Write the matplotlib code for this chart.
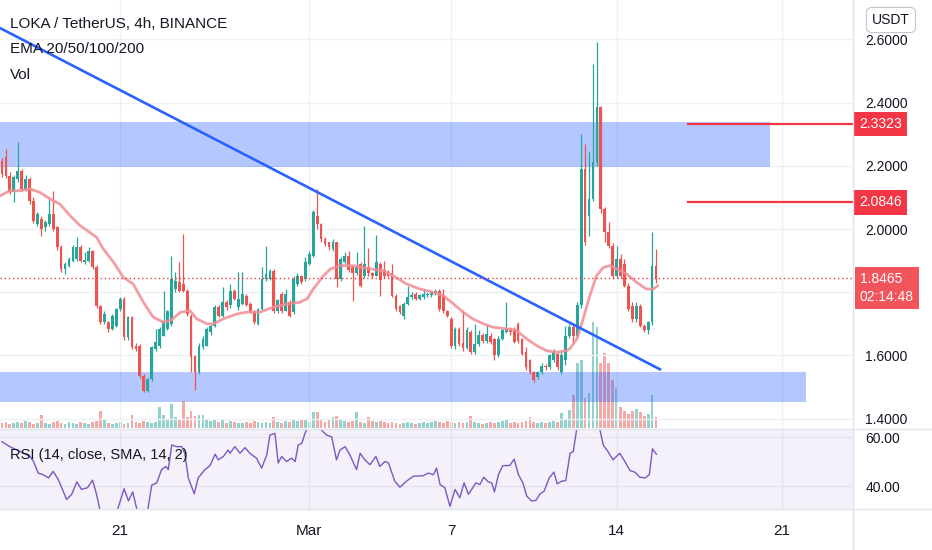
import numpy as np
import pandas as pd
import matplotlib
matplotlib.use("Agg")
import matplotlib.pyplot as plt
import matplotlib.transforms as mtransforms
from matplotlib.lines import Line2D

plt.rcParams['font.family'] = ['Liberation Sans', 'DejaVu Sans']

# ---- data (LOKA/USDT 4h) ----
start = pd.Timestamp("2022-02-16 00:00")

opens = [2.216, 2.227, 2.169, 2.116, 2.158, 2.185, 2.127, 2.158, 2.090, 2.016,
         2.032, 2.005, 2.016, 2.047, 2.005, 1.942, 1.873, 1.884, 1.900, 1.905,
         1.942, 1.897, 1.900, 1.931, 1.879, 1.757, 1.705, 1.705, 1.684, 1.694,
         1.747, 1.778, 1.657, 1.720, 1.631, 1.631, 1.536, 1.488, 1.525, 1.620,
         1.631, 1.662, 1.684, 1.699, 1.810, 1.831, 1.826, 1.805, 1.726, 1.599,
         1.547, 1.626, 1.631, 1.673, 1.694, 1.752, 1.726, 1.768, 1.758, 1.805,
         1.752, 1.763, 1.789, 1.763, 1.742, 1.699, 1.747, 1.842, 1.842, 1.868,
         1.742, 1.795, 1.742, 1.768, 1.736, 1.826, 1.852, 1.842, 1.889, 1.916,
         2.042, 2.016, 1.968, 1.958, 1.937, 1.958, 1.842, 1.895, 1.916, 1.880,
         1.860, 1.890, 1.850, 1.880, 1.860, 1.852, 1.890, 1.870, 1.863, 1.860,
         1.789, 1.757, 1.726, 1.763, 1.784, 1.795, 1.780, 1.785, 1.790, 1.790,
         1.795, 1.805, 1.790, 1.742, 1.715, 1.630, 1.684, 1.640, 1.625, 1.675,
         1.610, 1.636, 1.666, 1.645, 1.663, 1.652, 1.600, 1.652, 1.673, 1.684,
         1.684, 1.700, 1.652, 1.610, 1.584, 1.547, 1.531, 1.547, 1.568, 1.563,
         1.584, 1.605, 1.547, 1.584, 1.663, 1.690, 1.663, 1.760, 2.190, 2.042,
         2.095, 2.211, 2.385, 2.063, 1.989, 1.947, 1.852, 1.905, 1.890, 1.821,
         1.757, 1.715, 1.757, 1.694, 1.679, 1.705, 1.884]
highs = [2.225, 2.253, 2.180, 2.170, 2.276, 2.190, 2.170, 2.165, 2.100, 2.055,
         2.040, 2.030, 2.095, 2.121, 2.010, 1.950, 1.895, 1.910, 1.950, 1.974,
         1.950, 1.926, 1.942, 1.935, 1.885, 1.760, 1.740, 1.710, 1.730, 1.750,
         1.785, 1.785, 1.725, 1.725, 1.640, 1.635, 1.540, 1.530, 1.630, 1.684,
         1.690, 1.805, 1.745, 1.916, 1.863, 1.895, 1.984, 1.810, 1.730, 1.600,
         1.640, 1.660, 1.690, 1.700, 1.760, 1.760, 1.815, 1.775, 1.826, 1.810,
         1.863, 1.863, 1.795, 1.770, 1.745, 1.750, 1.879, 1.947, 1.875, 1.875,
         1.780, 1.800, 1.810, 1.775, 1.850, 1.860, 1.855, 1.910, 1.930, 2.060,
         2.127, 2.020, 1.975, 1.960, 1.968, 1.960, 1.910, 1.926, 1.930, 1.885,
         1.926, 1.895, 2.011, 1.940, 1.865, 1.980, 1.895, 1.900, 1.870, 1.890,
         1.795, 1.760, 1.770, 1.820, 1.800, 1.800, 1.795, 1.810, 1.800, 1.805,
         1.810, 1.810, 1.810, 1.745, 1.720, 1.690, 1.690, 1.745, 1.690, 1.680,
         1.700, 1.680, 1.670, 1.700, 1.670, 1.655, 1.660, 1.685, 1.768, 1.690,
         1.690, 1.705, 1.656, 1.626, 1.590, 1.550, 1.552, 1.575, 1.572, 1.605,
         1.620, 1.610, 1.610, 1.694, 1.700, 1.695, 1.770, 2.300, 2.269, 2.243,
         2.522, 2.591, 2.390, 2.070, 2.021, 1.955, 1.947, 1.920, 1.905, 1.830,
         1.770, 1.768, 1.762, 1.700, 1.710, 1.990, 1.937]
lows = [2.165, 2.160, 2.110, 2.085, 2.150, 2.120, 2.120, 2.080, 2.020, 2.010,
        1.979, 1.995, 2.010, 1.995, 1.935, 1.865, 1.857, 1.880, 1.895, 1.900,
        1.895, 1.890, 1.895, 1.875, 1.750, 1.700, 1.700, 1.673, 1.680, 1.690,
        1.740, 1.650, 1.650, 1.620, 1.615, 1.530, 1.483, 1.483, 1.520, 1.615,
        1.625, 1.660, 1.680, 1.694, 1.800, 1.800, 1.800, 1.725, 1.547, 1.489,
        1.540, 1.620, 1.630, 1.665, 1.690, 1.720, 1.720, 1.745, 1.750, 1.775,
        1.745, 1.760, 1.755, 1.735, 1.700, 1.695, 1.745, 1.835, 1.840, 1.735,
        1.735, 1.735, 1.740, 1.720, 1.730, 1.820, 1.825, 1.835, 1.885, 1.910,
        2.000, 1.960, 1.945, 1.935, 1.930, 1.816, 1.835, 1.890, 1.865, 1.773,
        1.855, 1.815, 1.845, 1.850, 1.845, 1.850, 1.789, 1.845, 1.848, 1.785,
        1.742, 1.730, 1.715, 1.758, 1.780, 1.775, 1.775, 1.780, 1.785, 1.785,
        1.790, 1.742, 1.735, 1.720, 1.625, 1.620, 1.630, 1.615, 1.620, 1.605,
        1.605, 1.630, 1.640, 1.640, 1.635, 1.584, 1.595, 1.648, 1.670, 1.665,
        1.638, 1.640, 1.600, 1.555, 1.540, 1.515, 1.525, 1.540, 1.555, 1.558,
        1.580, 1.555, 1.540, 1.570, 1.655, 1.640, 1.655, 1.750, 1.950, 1.978,
        2.090, 2.200, 2.050, 1.960, 1.940, 1.845, 1.845, 1.845, 1.815, 1.740,
        1.705, 1.705, 1.690, 1.673, 1.668, 1.695, 1.830]
closes = [2.174, 2.169, 2.116, 2.164, 2.185, 2.127, 2.158, 2.090, 2.026, 2.047,
          2.000, 2.021, 2.047, 2.000, 1.942, 1.873, 1.889, 1.905, 1.942, 1.942,
          1.900, 1.903, 1.931, 1.879, 1.757, 1.705, 1.731, 1.684, 1.726, 1.747,
          1.778, 1.657, 1.720, 1.626, 1.620, 1.536, 1.488, 1.525, 1.626, 1.641,
          1.684, 1.710, 1.741, 1.842, 1.837, 1.805, 1.805, 1.731, 1.594, 1.547,
          1.631, 1.652, 1.684, 1.694, 1.752, 1.726, 1.768, 1.752, 1.805, 1.779,
          1.779, 1.795, 1.758, 1.742, 1.705, 1.747, 1.842, 1.858, 1.868, 1.742,
          1.774, 1.742, 1.795, 1.726, 1.842, 1.852, 1.831, 1.895, 1.921, 2.053,
          2.016, 1.968, 1.952, 1.942, 1.958, 1.842, 1.905, 1.916, 1.870, 1.860,
          1.880, 1.821, 1.890, 1.860, 1.852, 1.895, 1.840, 1.850, 1.852, 1.789,
          1.747, 1.736, 1.763, 1.784, 1.790, 1.780, 1.790, 1.794, 1.795, 1.800,
          1.805, 1.747, 1.740, 1.726, 1.630, 1.684, 1.636, 1.625, 1.680, 1.610,
          1.636, 1.665, 1.645, 1.668, 1.642, 1.600, 1.652, 1.680, 1.684, 1.673,
          1.642, 1.647, 1.605, 1.563, 1.547, 1.522, 1.547, 1.568, 1.563, 1.600,
          1.610, 1.563, 1.600, 1.663, 1.690, 1.663, 1.760, 2.190, 1.958, 2.095,
          2.211, 2.385, 2.063, 1.989, 1.947, 1.852, 1.905, 1.852, 1.821, 1.747,
          1.715, 1.757, 1.694, 1.679, 1.705, 1.884, 1.8465]
volumes = [5, 6, 4, 5, 6, 5, 7, 6, 4, 5,
           13, 5, 4, 6, 7, 5, 4, 6, 5, 4,
           6, 5, 4, 6, 7, 17, 9, 5, 4, 5,
           6, 4, 5, 13, 6, 5, 7, 6, 5, 6,
           21, 13, 8, 24, 11, 9, 27, 11, 17, 12,
           13, 13, 8, 7, 8, 6, 8, 5, 7, 6,
           5, 5, 6, 5, 7, 6, 5, 6, 5, 11,
           6, 5, 7, 6, 8, 7, 9, 8, 6, 16,
           16, 8, 6, 9, 11, 12, 8, 7, 6, 7,
           16, 6, 5, 11, 7, 6, 7, 6, 5, 6,
           5, 4, 5, 6, 5, 4, 5, 6, 5, 6,
           7, 6, 5, 7, 6, 5, 6, 5, 6, 12,
           6, 5, 4, 5, 6, 5, 6, 7, 9, 5,
           6, 5, 6, 7, 11, 6, 5, 6, 5, 6,
           7, 6, 15, 8, 18, 33, 65, 68, 30, 35,
           106, 101, 65, 75, 65, 48, 40, 21, 17, 14,
           17, 19, 16, 12, 14, 33, 11]

ema_x = [-0.5, 2.0, 4.6, 7.1, 9.6, 12.2, 14.7, 17.3, 19.8, 22.3, 24.0, 25.7,
         28.3, 30.8, 33.3, 35.9, 38.4, 41.0, 43.0, 45.2, 47.7, 49.4, 52.0, 53.7,
         56.2, 59.6, 62.1, 65.5, 68.9, 72.3, 75.6, 77.5, 79.0, 81.6, 83.3, 85.8,
         89.2, 93.4, 96.8, 99.3, 102.7, 106.1, 109.5, 112.0, 114.6, 117.1, 119.6,
         122.2, 124.7, 128.1, 130.6, 133.2, 135.7, 138.2, 140.8, 143.3, 144.2,
         145.9, 147.5, 149.2, 150.9, 152.6, 154.3, 156.0, 158.5, 161.1, 163.6,
         165.3, 166.5]
ema_y = [2.105, 2.121, 2.121, 2.127, 2.116, 2.095, 2.079, 2.042, 2.011, 1.989,
         1.974, 1.937, 1.895, 1.847, 1.826, 1.768, 1.721, 1.705, 1.712, 1.736,
         1.742, 1.716, 1.700, 1.700, 1.716, 1.731, 1.737, 1.737, 1.753, 1.763,
         1.768, 1.780, 1.810, 1.852, 1.873, 1.884, 1.884, 1.874, 1.868, 1.852,
         1.826, 1.810, 1.800, 1.789, 1.763, 1.736, 1.715, 1.700, 1.689, 1.684,
         1.679, 1.652, 1.631, 1.615, 1.610, 1.615, 1.622, 1.652, 1.715, 1.789,
         1.852, 1.878, 1.884, 1.874, 1.858, 1.831, 1.810, 1.810, 1.821]

rsi_x = [0, 2.0, 4.6, 7.1, 8.0, 9.2, 10.5, 11.8, 13.0, 14.3, 16.4, 17.7, 19.0,
         20.2, 21.7, 23.0, 24.0, 24.9, 26.6, 28.3, 29.5, 31.0, 32.1, 33.2, 34.3,
         35.4, 36.7, 37.1, 38.0, 39.3, 40.5, 41.6, 42.2, 43.1, 44.3, 45.6, 46.4,
         47.3, 48.8, 49.8, 51.5, 52.8, 54.1, 54.9, 56.2, 57.4, 57.9, 59.1, 60.4,
         61.7, 62.9, 64.6, 65.9, 67.2, 68.0, 69.3, 70.1, 71.0, 72.2, 73.5, 74.4,
         75.2, 76.1, 76.9, 77.7, 79.0, 80.3, 81.1, 82.4, 83.7, 84.9, 85.8, 87.1,
         88.3, 90.0, 90.9, 92.1, 93.4, 94.9, 95.9, 97.2, 98.1, 99.7, 101.0, 102.7,
         104.4, 106.9, 108.2, 109.5, 110.3, 111.2, 112.4, 113.7, 115.0, 116.2,
         117.3, 118.4, 119.2, 120.3, 121.3, 122.3, 123.4, 124.3, 125.0, 126.0,
         127.1, 128.9, 130.0, 131.1, 132.2, 133.2, 134.4, 135.5, 136.6, 137.6,
         138.9, 140.1, 140.9, 142.1, 143.1, 144.2, 145.0, 145.9, 147.1, 148.4,
         149.6, 150.9, 151.7, 152.6, 153.8, 155.1, 156.8, 158.1, 159.4, 160.6,
         161.9, 163.2, 164.3, 165.1, 166.1]
rsi_y = [58.1, 56.1, 54.1, 52.1, 50.0, 45.3, 44.6, 43.3, 46.0, 42.6, 34.5, 36.6,
         41.7, 38.6, 39.3, 42.4, 36.6, 30.0, 27.0, 26.0, 31.2, 38.9, 33.9, 37.6,
         30.0, 26.0, 27.0, 31.2, 40.3, 41.3, 46.7, 48.0, 46.7, 56.8, 56.1, 56.1,
         53.4, 43.3, 36.8, 43.3, 46.7, 48.3, 53.0, 50.7, 52.1, 54.7, 53.4, 56.1,
         53.4, 55.7, 53.4, 51.4, 47.3, 52.7, 60.8, 61.5, 49.4, 52.1, 50.0, 51.4,
         50.0, 56.8, 57.4, 61.5, 64.2, 67.0, 66.0, 62.8, 60.8, 60.1, 50.7, 54.7,
         56.1, 52.7, 46.7, 53.4, 50.7, 48.7, 52.1, 48.0, 50.0, 49.4, 42.0, 39.5,
         42.0, 44.0, 44.2, 45.3, 44.6, 47.3, 40.6, 39.3, 31.7, 38.6, 35.2, 41.3,
         36.6, 38.6, 41.3, 40.6, 43.6, 41.7, 41.3, 37.6, 44.6, 48.3, 48.4, 51.0,
         44.6, 41.3, 35.9, 33.9, 34.1, 36.8, 37.9, 43.3, 45.7, 40.9, 42.0, 42.2,
         53.4, 54.1, 63.5, 72.0, 66.0, 70.0, 75.0, 63.5, 56.8, 54.1, 50.7, 53.4,
         50.0, 46.3, 45.7, 43.6, 43.3, 44.6, 55.2, 53.0]

# drawn levels
zone_upper = (2.196, 2.338)
zone_upper_end = 195.0          # candle index where the box stops
zone_lower = (1.4535, 1.5465)
zone_lower_end = 204.0
trend_x = [-0.5, 167.0]
trend_y = [2.636, 1.556]
resistances = [2.3323, 2.0846]
res_from = 174.0
last_price = closes[-1]
countdown = "02:14:48"

price_ticks = [1.4, 1.6, 1.8, 2.0, 2.2, 2.4, 2.6]
tick_dates = pd.to_datetime(["2022-02-21", "2022-03-01", "2022-03-07",
                             "2022-03-14", "2022-03-21"])
tick_labels = ["21", "Mar", "7", "14", "21"]

assert len(opens) == len(highs) == len(lows) == len(closes) == len(volumes)
assert len(ema_x) == len(ema_y) and len(rsi_x) == len(rsi_y)

GREEN = "#26a69a"
RED = "#ef5350"
TXT = "#131722"
GRID = "#eef0f4"

o = np.array(opens); h = np.array(highs); l = np.array(lows); c = np.array(closes)
x = np.arange(len(c))
tick_pos = (tick_dates - start) / pd.Timedelta(hours=4)

W, H = 932, 550
fig = plt.figure(figsize=(W / 100, H / 100), dpi=100)


def box(x0, y0, x1, y1):
    return [x0 / W, 1 - y1 / H, (x1 - x0) / W, (y1 - y0) / H]


ax_vol = fig.add_axes(box(0, 0, 853, 428))
ax = fig.add_axes(box(0, 0, 853, 428), sharex=ax_vol)
ax_rsi = fig.add_axes(box(0, 430, 853, 509), sharex=ax_vol)
ax.set_facecolor("none")
for a in (ax_vol, ax, ax_rsi):
    for s in a.spines.values():
        s.set_visible(False)

ax_vol.set_xlim(-0.5, 216)

# volume
up = c >= o
vcol = np.where(up, GREEN, RED)
ax_vol.bar(x, volumes, width=0.7, color=vcol, alpha=0.5, linewidth=0)
ax_vol.set_ylim(0, max(volumes) * 4.04)
ax_vol.tick_params(left=False, labelleft=False, bottom=False, labelbottom=False)

# price pane
ax.set_ylim(1.3703, 2.7247)
ax.set_xticks(tick_pos)
ax.tick_params(axis="x", length=0, labelbottom=False)
ax.yaxis.tick_right()
ax.set_yticks(price_ticks)
# 1.8000 sits under the live-price tag, as on the screen
ax.set_yticklabels(["" if abs(v - 1.8) < 1e-9 else f"{v:.4f}" for v in price_ticks])
ax.tick_params(axis="y", length=0, pad=9, labelsize=10, labelcolor=TXT)
ax.grid(True, color=GRID, linewidth=1)

ax.fill_between([-0.5, zone_upper_end], zone_upper[0], zone_upper[1],
                color="#2962ff", alpha=0.35, linewidth=0, zorder=2)
ax.fill_between([-0.5, zone_lower_end], zone_lower[0], zone_lower[1],
                color="#2962ff", alpha=0.35, linewidth=0, zorder=2)

ax.vlines(x, l, h, colors=vcol, linewidth=0.9, zorder=3)
body = np.maximum(np.abs(c - o), 0.002)
ax.bar(x, body, bottom=np.minimum(o, c), width=0.7, color=vcol, linewidth=0, zorder=3)

ax.plot(ema_x, ema_y, color="#f28c96", linewidth=2.0, alpha=0.85, zorder=4,
        solid_capstyle="round")
ax.plot(trend_x, trend_y, color="#2962ff", linewidth=1.9, zorder=5)
for lvl in resistances:
    ax.plot([res_from, 216], [lvl, lvl], color="#f23645", linewidth=1.6, zorder=5)
ax.axhline(last_price, color="#f23645", linewidth=1, linestyle=(0, (1, 2)), zorder=5)

trans = mtransforms.blended_transform_factory(ax.transAxes, ax.transData)
for lvl in resistances:
    ax.text(1 + 6 / 853, lvl, f"{lvl:.4f}", transform=trans, ha="left", va="center",
            color="white", fontsize=10, zorder=10,
            bbox=dict(boxstyle="square,pad=0.38", fc="#f23645", ec="none"))
ax.annotate(f"{last_price:.4f}\n{countdown}", xy=(1, last_price), xycoords=trans,
            xytext=(5, -7.5), textcoords="offset points", ha="left", va="center",
            color="white", fontsize=10, linespacing=1.35, zorder=10,
            bbox=dict(boxstyle="square,pad=0.35", fc="#f2545b", ec="none"))

# RSI pane
ax_rsi.set_ylim(30.6, 62.9)
ax_rsi.axhspan(30, 70, color="#7e57c2", alpha=0.08, linewidth=0)
ax_rsi.plot(rsi_x, rsi_y, color="#7e57c2", linewidth=1.0)
ax_rsi.yaxis.tick_right()
ax_rsi.set_yticks([40, 60])
ax_rsi.set_yticklabels(["40.00", "60.00"])
ax_rsi.tick_params(axis="y", length=0, pad=9, labelsize=10, labelcolor=TXT)
ax_rsi.set_xticks(tick_pos)
ax_rsi.set_xticklabels(tick_labels)
ax_rsi.tick_params(axis="x", length=0, pad=11, labelsize=11, labelcolor=TXT)
ax_rsi.grid(True, color="#e6e3ee", linewidth=1)

# pane separators
for seg in ([[853 / W, 853 / W], [0, 1]],
            [[0, 1], [1 - 429 / H, 1 - 429 / H]],
            [[0, 1], [1 - 509 / H, 1 - 509 / H]]):
    fig.add_artist(Line2D(seg[0], seg[1], color="#e0e3eb", linewidth=1))

# legends
fig.text(10 / W, 1 - 24 / H, "LOKA / TetherUS, 4h, BINANCE", fontsize=11,
         color=TXT, va="center")
fig.text(10 / W, 1 - 49 / H, "EMA 20/50/100/200", fontsize=11, color=TXT, va="center")
fig.text(10 / W, 1 - 75 / H, "Vol", fontsize=11, color=TXT, va="center")
fig.text(10 / W, 1 - 455 / H, "RSI (14, close, SMA, 14, 2)", fontsize=10.5,
         color=TXT, va="center")
fig.text(891 / W, 1 - 20 / H, "USDT", fontsize=10, color=TXT, ha="center", va="center",
         bbox=dict(boxstyle="round,pad=0.4", fc="white", ec="#c3c6ce", lw=0.8))

fig.savefig("out.png", dpi=100)
